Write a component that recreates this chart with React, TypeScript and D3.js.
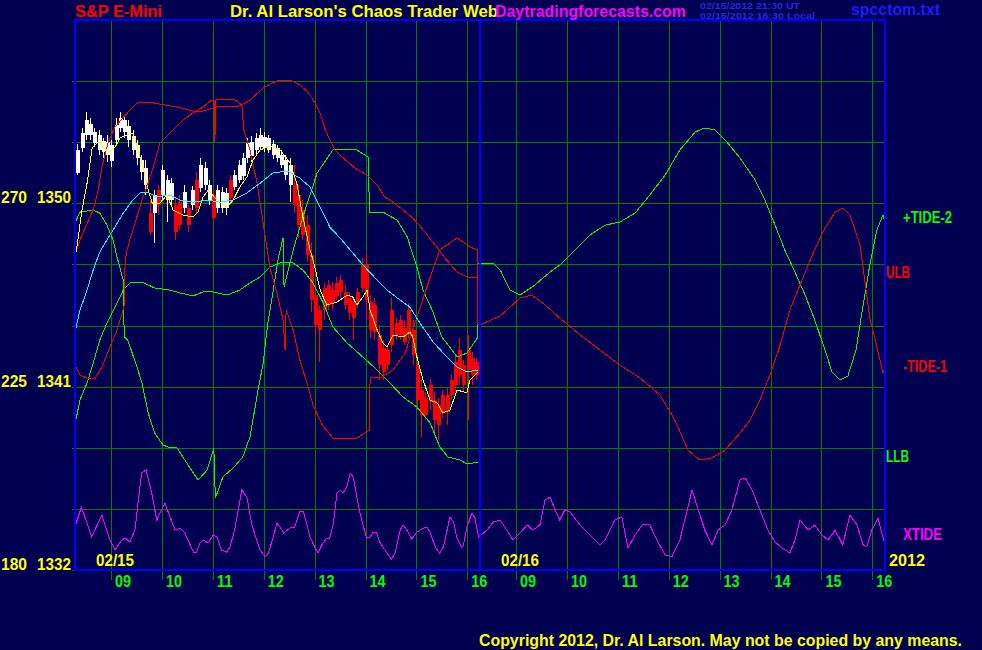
import React from 'react';
import * as d3 from 'd3';

const W = 982;
const H = 650;
const BG = '#000050';
const FONT = 'Liberation Sans, Arial, Helvetica, sans-serif';

// ---- axis values ----
const hourTicks = [9, 10, 11, 12, 13, 14, 15, 16];
const hourLabels = ['09', '10', '11', '12', '13', '14', '15', '16'];
const priceGrid = [1335, 1338, 1341, 1344, 1347, 1350, 1353, 1356];
const tideLabels = ['270', '225', '180'];
const priceLabels = [1350, 1341, 1332];

// ---- 5-minute price bars of 02/15 (open, high, low, close), starting 08:20 ----
const barStart = 8.3;
const bars: number[][] = [
  [1351.5, 1352.9, 1351.4, 1352.6], [1352.7, 1353.7, 1352.5, 1353.45], [1353.35, 1354.5, 1353.1, 1354.1],
  [1353.35, 1354.2, 1353.1, 1353.9], [1352.95, 1353.7, 1352.75, 1353.5], [1352.6, 1353.6, 1352.35, 1353.35],
  [1352.5, 1353.2, 1352.25, 1353.05], [1352.35, 1353.35, 1352.05, 1353.0], [1352.1, 1353.1, 1351.8, 1352.85],
  [1353.1, 1354.2, 1352.85, 1353.85], [1353.7, 1354.5, 1353.5, 1354.2], [1353.5, 1354.35, 1353.2, 1354.1],
  [1353.1, 1354.1, 1352.75, 1353.8], [1352.6, 1353.6, 1352.35, 1353.3], [1352.25, 1353.1, 1351.9, 1352.85],
  [1351.55, 1352.35, 1351.15, 1352.15], [1350.9, 1352.15, 1350.4, 1351.75], [1349.55, 1350.15, 1348.45, 1348.6],
  [1349.55, 1350.65, 1348.05, 1350.4], [1350.65, 1350.9, 1349.45, 1349.9], [1350.4, 1351.9, 1350.15, 1351.65],
  [1350.15, 1351.4, 1349.1, 1351.15], [1350.15, 1351.25, 1349.9, 1351.0], [1349.9, 1350.25, 1348.2, 1348.6],
  [1350.05, 1350.4, 1348.7, 1348.95], [1349.75, 1350.9, 1349.55, 1350.55], [1349.75, 1349.9, 1348.6, 1348.95],
  [1349.9, 1350.85, 1349.65, 1350.65], [1351.15, 1351.55, 1349.55, 1349.75], [1350.75, 1352.25, 1350.55, 1351.9],
  [1350.9, 1352.05, 1350.65, 1351.75], [1350.15, 1351.15, 1349.9, 1350.9], [1350.4, 1350.65, 1349.1, 1349.3],
  [1349.75, 1350.9, 1349.55, 1350.65], [1349.75, 1350.8, 1349.55, 1350.55], [1349.75, 1350.75, 1349.45, 1350.5],
  [1351.15, 1351.4, 1350.0, 1350.25], [1350.8, 1351.65, 1350.65, 1351.4], [1351.15, 1352.15, 1351.0, 1351.9],
  [1351.35, 1352.45, 1351.15, 1352.25], [1352.25, 1353.2, 1352.0, 1352.95], [1352.3, 1353.3, 1352.05, 1353.0],
  [1352.6, 1353.45, 1352.35, 1353.2], [1352.75, 1353.7, 1352.6, 1353.35], [1352.7, 1353.5, 1352.5, 1353.25],
  [1352.6, 1353.35, 1352.45, 1353.2], [1352.35, 1353.1, 1352.2, 1352.9], [1352.25, 1352.85, 1352.05, 1352.7],
  [1351.9, 1352.6, 1351.75, 1352.35], [1351.4, 1352.35, 1351.15, 1352.15], [1350.9, 1352.25, 1350.05, 1351.9],
  [1350.9, 1351.9, 1349.55, 1349.9], [1350.4, 1350.9, 1348.3, 1348.95], [1349.65, 1350.15, 1348.2, 1348.45],
  [1348.95, 1349.45, 1347.1, 1347.45], [1347.45, 1348.05, 1344.65, 1345.25], [1345.5, 1346.0, 1343.55, 1344.05],
  [1344.75, 1345.0, 1342.2, 1343.8], [1345.85, 1346.1, 1344.25, 1344.75], [1346.0, 1346.25, 1344.75, 1345.0],
  [1345.75, 1346.15, 1344.75, 1345.1], [1346.1, 1346.4, 1345.25, 1345.45], [1346.25, 1346.5, 1345.35, 1345.65],
  [1345.65, 1346.0, 1344.75, 1345.0], [1345.35, 1345.65, 1344.25, 1344.6], [1345.15, 1345.4, 1343.3, 1344.35],
  [1345.65, 1345.85, 1344.85, 1345.15], [1346.95, 1347.3, 1345.65, 1345.85], [1346.95, 1347.55, 1344.25, 1345.25],
  [1345.15, 1345.5, 1343.4, 1343.8], [1345.0, 1345.35, 1343.3, 1343.7], [1343.55, 1344.05, 1341.35, 1342.05],
  [1342.9, 1343.3, 1341.35, 1341.7], [1342.8, 1343.05, 1341.8, 1342.05], [1344.75, 1345.4, 1342.7, 1343.05],
  [1344.15, 1344.35, 1343.3, 1343.55], [1344.25, 1344.5, 1343.3, 1343.55], [1343.9, 1344.25, 1343.05, 1343.2],
  [1344.75, 1345.1, 1343.4, 1343.55], [1343.8, 1344.25, 1342.05, 1342.55], [1342.05, 1342.55, 1339.85, 1340.35],
  [1340.85, 1341.35, 1338.55, 1339.6], [1340.45, 1340.75, 1339.35, 1339.6], [1341.1, 1341.4, 1339.85, 1340.25],
  [1340.35, 1340.75, 1338.75, 1339.35], [1340.1, 1340.45, 1338.4, 1339.1], [1340.6, 1340.85, 1339.45, 1339.75],
  [1340.6, 1340.95, 1339.1, 1339.75], [1341.35, 1341.55, 1340.35, 1340.6], [1342.2, 1342.55, 1340.75, 1341.1],
  [1342.8, 1343.4, 1341.1, 1341.55], [1342.05, 1342.3, 1340.75, 1341.1], [1342.8, 1343.55, 1339.35, 1341.8],
  [1342.4, 1342.7, 1341.1, 1341.55], [1342.2, 1342.4, 1341.35, 1341.55],
];

// ---- indicator lines: [clock hour, value] ----
const yellowMA: number[][] = [
  [8.29, 1347.36], [8.33, 1347.85], [8.43, 1349.67], [8.53, 1350.99], [8.63, 1352.72], [8.72, 1352.96],
  [8.78, 1353.01], [8.84, 1352.72], [8.98, 1352.52], [9.08, 1352.76], [9.18, 1353.21], [9.31, 1353.35],
  [9.43, 1353.45], [9.53, 1352.62], [9.63, 1351.78], [9.73, 1350.65], [9.81, 1350.01], [9.96, 1350.01],
  [10.1, 1350.41], [10.22, 1349.67], [10.41, 1349.43], [10.61, 1349.33], [10.71, 1349.57], [10.81, 1350.31],
  [10.91, 1350.65], [11.08, 1350.16], [11.28, 1349.82], [11.4, 1350.16], [11.53, 1350.8], [11.67, 1351.29],
  [11.79, 1352.13], [11.93, 1352.62], [12.12, 1352.81], [12.32, 1352.62], [12.52, 1351.98], [12.65, 1350.99],
  [12.77, 1349.33], [12.91, 1347.71], [12.97, 1347.22], [13.11, 1345.74], [13.24, 1345.01], [13.44, 1345.15],
  [13.64, 1345.5], [13.75, 1345.4], [13.83, 1345.01], [13.95, 1345.4], [14.03, 1345.74], [14.09, 1344.76],
  [14.23, 1343.78], [14.34, 1343.14], [14.42, 1342.95], [14.54, 1343.54], [14.74, 1343.44], [14.87, 1343.68],
  [14.93, 1343.44], [15.01, 1342.45], [15.13, 1341.33], [15.27, 1340.34], [15.41, 1340.2], [15.52, 1339.71],
  [15.66, 1339.85], [15.8, 1340.84], [15.99, 1340.69], [16.05, 1341.33], [16.21, 1341.72],
];

const cyanMA: number[][] = [
  [8.29, 1343.63], [8.39, 1344.76], [8.53, 1345.74], [8.65, 1346.73], [8.78, 1347.61], [8.92, 1348.2],
  [9.04, 1348.69], [9.24, 1349.52], [9.43, 1350.16], [9.57, 1350.51], [9.71, 1350.55], [9.9, 1350.31],
  [10.16, 1350.41], [10.36, 1350.16], [10.61, 1350.06], [10.89, 1350.16], [11.14, 1350.06], [11.4, 1350.16],
  [11.67, 1350.51], [11.93, 1350.99], [12.18, 1351.49], [12.46, 1351.59], [12.71, 1351.24], [12.91, 1350.8],
  [13.11, 1349.82], [13.3, 1348.83], [13.5, 1348.3], [13.7, 1347.71], [13.95, 1346.97], [14.23, 1346.23],
  [14.42, 1345.74], [14.68, 1345.25], [14.87, 1344.91], [15.07, 1344.12], [15.33, 1343.19], [15.6, 1342.45],
  [15.8, 1341.96], [15.99, 1341.72], [16.21, 1341.82],
];

const ulbLine: number[][] = [
  [8.29, 1347.46], [8.39, 1348.2], [8.49, 1348.79], [8.65, 1349.67], [8.75, 1350.65], [8.82, 1351.73],
  [8.94, 1352.96], [9.08, 1353.75], [9.28, 1354.33], [9.51, 1354.92], [9.77, 1354.97], [9.96, 1354.87],
  [10.3, 1354.73], [10.61, 1354.53], [10.81, 1354.53], [11.08, 1354.73], [11.53, 1354.78], [11.73, 1355.07],
  [11.99, 1355.66], [12.16, 1355.9], [12.32, 1356.05], [12.52, 1356.05], [12.71, 1355.81], [12.87, 1355.46],
  [13.01, 1354.92], [13.11, 1354.43], [13.2, 1353.7], [13.3, 1353.11], [13.4, 1352.62], [13.5, 1352.37],
  [13.79, 1351.73], [14.03, 1351.39], [14.23, 1350.9], [14.38, 1350.31], [14.62, 1349.92], [14.93, 1349.28],
  [15.17, 1348.59], [15.37, 1347.95], [15.56, 1347.31], [15.8, 1346.63], [15.99, 1346.38], [16.21, 1346.33],
];

const llbLine: number[][] = [
  [8.29, 1339.12], [8.39, 1340.34], [8.53, 1341.18], [8.65, 1342.16], [8.78, 1343.29], [8.92, 1344.12],
  [9.12, 1345.11], [9.24, 1345.74], [9.37, 1346.09], [9.61, 1346.14], [9.86, 1345.84], [10.16, 1345.74],
  [10.36, 1345.6], [10.61, 1345.45], [10.81, 1345.65], [11.0, 1345.65], [11.28, 1345.5], [11.53, 1345.74],
  [11.73, 1346.09], [11.93, 1346.38], [12.12, 1346.87], [12.38, 1347.12], [12.58, 1347.07], [12.77, 1346.73],
  [12.97, 1346.09], [13.17, 1345.11], [13.36, 1343.93], [13.64, 1343.14], [13.95, 1342.45], [14.23, 1341.82],
  [14.48, 1341.18], [14.74, 1340.49], [15.01, 1340.0], [15.27, 1339.22], [15.46, 1338.04], [15.62, 1337.55],
  [15.86, 1337.4], [15.99, 1337.2], [16.21, 1337.3],
];

const tide1Day1: number[][] = [
  [8.29, 1342.06], [8.39, 1341.57], [8.53, 1341.42], [8.69, 1341.42], [8.82, 1341.96], [8.98, 1342.95],
  [9.12, 1343.78], [9.22, 1344.61], [9.26, 1345.01], [9.27, 1346.73], [9.3, 1347.56], [9.37, 1348.2],
  [9.49, 1349.18], [9.61, 1350.16], [9.73, 1350.99], [9.83, 1351.78], [9.96, 1352.96], [10.16, 1353.45],
  [10.41, 1354.09], [10.61, 1354.43], [10.81, 1354.73], [10.98, 1355.07], [11.03, 1355.07], [11.04, 1353.01],
  [11.06, 1355.07], [11.2, 1355.12], [11.44, 1355.07], [11.57, 1354.83], [11.61, 1353.6], [11.73, 1352.62],
  [11.87, 1350.99], [11.99, 1349.03], [12.12, 1346.87], [12.26, 1345.6], [12.38, 1344.27], [12.42, 1342.8],
  [12.44, 1344.76], [12.58, 1343.78], [12.71, 1342.31], [12.85, 1341.18], [12.97, 1340.1], [13.15, 1339.12],
  [13.36, 1338.48], [13.83, 1338.48], [14.08, 1338.87], [14.09, 1341.47], [14.32, 1341.47], [14.54, 1341.82],
  [14.78, 1342.65], [15.01, 1344.42], [15.27, 1346.38], [15.46, 1347.71], [15.8, 1348.3], [16.05, 1347.86],
  [16.2, 1347.71], [16.21, 1344.03],
];
const tide1Day2: number[][] = [
  [8.29, 1344.03], [8.69, 1344.47], [9.08, 1345.35], [9.31, 1345.5], [9.57, 1345.01], [9.86, 1344.37],
  [10.26, 1343.54], [10.65, 1342.8], [11.04, 1342.06], [11.44, 1341.42], [11.83, 1340.59], [12.12, 1339.36],
  [12.38, 1337.89], [12.61, 1337.4], [12.85, 1337.5], [13.11, 1337.89], [13.4, 1338.72], [13.6, 1339.36],
  [13.79, 1340.34], [13.99, 1341.57], [14.19, 1343.04], [14.38, 1344.76], [14.58, 1345.99], [14.82, 1347.46],
  [15.07, 1348.79], [15.27, 1349.57], [15.42, 1349.77], [15.56, 1349.43], [15.76, 1347.95], [15.95, 1344.37],
  [16.09, 1342.95], [16.21, 1341.67], [16.25, 1341.82],
];

const tide2Day1: number[][] = [
  [8.29, 1349.03], [8.39, 1349.57], [8.65, 1349.67], [8.78, 1349.52], [8.92, 1348.93], [9.04, 1348.2],
  [9.12, 1347.36], [9.24, 1346.23], [9.26, 1343.44], [9.33, 1343.29], [9.51, 1341.96], [9.61, 1341.18],
  [9.73, 1339.71], [9.86, 1338.72], [10.02, 1338.14], [10.16, 1337.99], [10.3, 1337.99], [10.45, 1337.4],
  [10.71, 1336.42], [10.89, 1336.91], [11.02, 1337.99], [11.05, 1335.53], [11.2, 1336.57], [11.4, 1337.01],
  [11.59, 1337.55], [11.73, 1338.53], [11.89, 1340.84], [11.99, 1342.16], [12.08, 1344.12], [12.18, 1345.6],
  [12.28, 1347.22], [12.38, 1348.3], [12.4, 1345.89], [12.58, 1347.71], [12.77, 1349.33], [13.05, 1351.49],
  [13.36, 1352.62], [13.83, 1352.62], [14.05, 1352.27], [14.08, 1349.57], [14.34, 1349.57], [14.62, 1349.18],
  [14.82, 1348.35], [15.01, 1346.87], [15.13, 1345.74], [15.31, 1344.76], [15.5, 1343.44], [15.7, 1342.8],
  [15.8, 1342.45], [15.99, 1342.65], [16.2, 1343.39], [16.21, 1347.07],
];
const tide2Day2: number[][] = [
  [8.29, 1347.07], [8.55, 1347.07], [8.69, 1346.73], [8.88, 1345.74], [9.08, 1345.5], [9.37, 1345.99],
  [9.67, 1346.63], [9.86, 1346.97], [10.16, 1347.71], [10.45, 1348.44], [10.75, 1348.93], [11.04, 1349.08],
  [11.34, 1349.52], [11.63, 1350.41], [11.93, 1351.39], [12.22, 1352.62], [12.52, 1353.5], [12.71, 1353.7],
  [12.91, 1353.6], [13.11, 1353.11], [13.4, 1352.23], [13.7, 1351.14], [13.89, 1350.16], [14.09, 1348.93],
  [14.28, 1347.71], [14.48, 1346.63], [14.68, 1345.5], [14.87, 1344.27], [15.07, 1342.8], [15.21, 1341.72],
  [15.36, 1341.33], [15.52, 1341.52], [15.68, 1342.8], [15.82, 1345.01], [15.95, 1346.97], [16.09, 1348.69],
  [16.21, 1349.43], [16.25, 1349.08],
];

const xtideDay1: number[][] = [
  [8.29, 1334.11], [8.42, 1335.09], [8.62, 1333.62], [8.82, 1334.7], [8.98, 1333.47], [9.08, 1332.98],
  [9.21, 1333.47], [9.28, 1333.57], [9.37, 1333.37], [9.47, 1333.96], [9.6, 1336.76], [9.69, 1336.91],
  [9.8, 1335.78], [9.9, 1334.45], [9.96, 1334.8], [10.06, 1335.29], [10.16, 1334.6], [10.26, 1333.96],
  [10.36, 1334.06], [10.45, 1333.82], [10.62, 1332.88], [10.68, 1332.88], [10.75, 1333.33], [10.81, 1333.47],
  [10.91, 1333.33], [11.01, 1333.72], [11.08, 1333.62], [11.17, 1332.98], [11.27, 1332.88], [11.34, 1333.13],
  [11.44, 1334.11], [11.57, 1335.93], [11.67, 1335.58], [11.76, 1334.31], [11.86, 1333.47], [11.93, 1332.98],
  [12.03, 1332.64], [12.09, 1332.83], [12.19, 1333.62], [12.26, 1334.31], [12.32, 1334.11], [12.39, 1333.82],
  [12.52, 1334.06], [12.61, 1334.11], [12.71, 1334.85], [12.78, 1334.85], [12.84, 1334.31], [12.91, 1333.62],
  [13.01, 1333.08], [13.07, 1332.83], [13.14, 1333.23], [13.24, 1333.57], [13.3, 1333.57], [13.37, 1334.31],
  [13.44, 1335.78], [13.5, 1335.93], [13.56, 1335.78], [13.63, 1336.07], [13.7, 1336.76], [13.76, 1336.56],
  [13.83, 1335.58], [13.89, 1334.8], [14.02, 1333.57], [14.09, 1333.62], [14.15, 1333.86], [14.22, 1333.82],
  [14.28, 1333.37], [14.42, 1332.83], [14.51, 1332.54], [14.58, 1332.83], [14.68, 1333.96], [14.74, 1334.21],
  [14.81, 1333.96], [14.91, 1333.52], [15.01, 1333.86], [15.14, 1334.06], [15.2, 1334.11], [15.27, 1333.86],
  [15.37, 1333.13], [15.46, 1332.83], [15.53, 1333.13], [15.66, 1334.6], [15.73, 1334.35], [15.79, 1333.62],
  [15.89, 1333.13], [15.92, 1333.18], [15.99, 1334.06], [16.09, 1334.8], [16.15, 1334.55], [16.22, 1333.62],
];
const xtideDay2: number[][] = [
  [8.29, 1333.67], [8.43, 1333.96], [8.55, 1334.35], [8.69, 1334.45], [8.82, 1333.96], [8.94, 1333.47],
  [9.08, 1333.82], [9.22, 1334.21], [9.33, 1333.96], [9.47, 1334.21], [9.57, 1335.44], [9.67, 1335.58],
  [9.77, 1334.95], [9.86, 1334.45], [9.96, 1334.95], [10.06, 1334.85], [10.26, 1334.21], [10.45, 1333.72],
  [10.65, 1333.23], [10.75, 1333.47], [10.94, 1334.45], [11.08, 1334.6], [11.2, 1333.08], [11.34, 1333.72],
  [11.48, 1334.21], [11.63, 1334.21], [11.77, 1333.47], [11.93, 1332.74], [12.06, 1332.64], [12.22, 1333.47],
  [12.46, 1335.93], [12.58, 1334.95], [12.71, 1333.96], [12.85, 1333.23], [12.97, 1333.96], [13.11, 1334.21],
  [13.24, 1334.95], [13.4, 1336.42], [13.5, 1336.52], [13.64, 1335.93], [13.79, 1334.95], [13.95, 1333.96],
  [14.09, 1333.37], [14.23, 1333.08], [14.38, 1332.83], [14.48, 1333.47], [14.58, 1334.45], [14.74, 1333.96],
  [14.87, 1334.21], [15.01, 1333.72], [15.13, 1333.47], [15.27, 1333.96], [15.42, 1333.23], [15.56, 1334.7],
  [15.7, 1334.21], [15.82, 1333.23], [15.89, 1333.13], [15.99, 1333.96], [16.11, 1334.55], [16.25, 1333.23],
];

// ---- scales ----
const yScale = d3.scaleLinear().domain([1332, 1359]).range([570, 20]);
const xDay1 = d3.scaleLinear().domain([9, 16]).range([111, 467.3]);
const xDay2 = d3.scaleLinear().domain([9, 16]).range([516, 872.3]);
const frameLeft = xDay1(8.293);
const frameRight = xDay2(16.25);
const divider = xDay1(16.25);
const frameTop = yScale(1359);
const frameBottom = yScale(1332);

function pathFor(day1: number[][], day2?: number[][]) {
  const pts: [number, number][] = day1.map((d) => [xDay1(d[0]), yScale(d[1])]);
  if (day2) day2.forEach((d) => pts.push([xDay2(d[0]), yScale(d[1])]));
  return d3.line()(pts) || '';
}

function T(props: any) {
  const { children, ...rest } = props;
  return (
    <text fontFamily={FONT} fontWeight="bold" lengthAdjust="spacingAndGlyphs" {...rest}>
      {children}
    </text>
  );
}

export default function App() {
  const gridX = [...hourTicks.map((h) => xDay1(h)), ...hourTicks.map((h) => xDay2(h))];
  const crisp = (v: number) => Math.round(v) + 0.5;
  const lineProps = { fill: 'none', strokeWidth: 1, shapeRendering: 'crispEdges' as const };

  return (
    <svg
      width={W}
      height={H}
      viewBox={`0 0 ${W} ${H}`}
      style={{ position: 'fixed', left: 0, top: 0, background: BG, display: 'block' }}
    >
      <rect x={0} y={0} width={W} height={H} fill={BG} />

      {/* grid */}
      {priceGrid.map((p) => (
        <line key={'h' + p} x1={frameLeft - 3} x2={frameRight} y1={crisp(yScale(p))} y2={crisp(yScale(p))} stroke="#008000" strokeWidth={1} />
      ))}
      <line x1={frameLeft - 3} x2={frameLeft} y1={crisp(frameBottom)} y2={crisp(frameBottom)} stroke="#008000" />
      {gridX.map((x, i) => (
        <line key={'v' + i} x1={crisp(x)} x2={crisp(x)} y1={frameTop} y2={frameBottom + 10} stroke="#008000" strokeWidth={1} />
      ))}

      {/* price bars */}
      {bars.map((b, i) => {
        const t = barStart + ((i + 0.5) * 5) / 60;
        const cx = Math.round(xDay1(t));
        const [o, h, l, c] = b;
        const col = c >= o ? '#ffffff' : '#ff0000';
        const yTop = yScale(Math.max(o, c));
        const yBot = yScale(Math.min(o, c));
        return (
          <g key={'b' + i}>
            <line x1={cx + 0.5} x2={cx + 0.5} y1={yScale(h)} y2={yScale(l)} stroke={col} strokeWidth={1} shapeRendering="crispEdges" />
            <rect x={cx - 1.5} y={yTop} width={4} height={Math.max(1, yBot - yTop)} fill={col} shapeRendering="crispEdges" />
          </g>
        );
      })}

      {/* indicator lines */}
      <path d={pathFor(llbLine)} stroke="#00ff00" {...lineProps} />
      <path d={pathFor(tide2Day1, tide2Day2)} stroke="#00ff00" {...lineProps} />
      <path d={pathFor(ulbLine)} stroke="#ff0000" {...lineProps} />
      <path d={pathFor(tide1Day1, tide1Day2)} stroke="#ff0000" {...lineProps} />
      <path d={pathFor(xtideDay1, xtideDay2)} stroke="#ff00ff" {...lineProps} />
      <path d={pathFor(cyanMA)} stroke="#00ffff" {...lineProps} />
      <path d={pathFor(yellowMA)} stroke="#ffff00" {...lineProps} />

      {/* frame */}
      <rect x={frameLeft} y={frameTop} width={frameRight - frameLeft} height={frameBottom - frameTop} fill="none" stroke="#0000ff" strokeWidth={2} />
      <line x1={divider} x2={divider} y1={frameTop} y2={frameBottom} stroke="#0000ff" strokeWidth={2} />

      {/* header */}
      <T x={75} y={17} fill="#ff0000" fontSize={16} textLength={87}>S&amp;P E-Mini</T>
      <T x={230} y={17} fill="#ffff00" fontSize={16.5} textLength={268}>Dr. Al Larson's Chaos Trader Web</T>
      <T x={495} y={17} fill="#ff00ff" fontSize={16.5} textLength={191}>Daytradingforecasts.com</T>
      <T x={700} y={9} fill="#2828e0" fontSize={8.5} textLength={100}>02/15/2012 21:30 UT</T>
      <T x={700} y={19} fill="#2828e0" fontSize={8.5} textLength={115}>02/15/2012 16:30 Local</T>
      <T x={851} y={15} fill="#1c1cff" fontSize={16} textLength={89}>spcctom.txt</T>

      {/* left axis labels */}
      {priceLabels.map((p, i) => (
        <g key={'l' + p}>
          <T x={1} y={yScale(p)} fill="#ffff00" fontSize={17} textLength={26}>{tideLabels[i]}</T>
          <T x={37} y={yScale(p)} fill="#ffff00" fontSize={17} textLength={34}>{String(p)}</T>
        </g>
      ))}

      {/* hour labels */}
      {hourTicks.map((h, i) => (
        <g key={'hl' + h}>
          <T x={xDay1(h) + 4} y={587} fill="#00ff00" fontSize={17} textLength={16}>{hourLabels[i]}</T>
          <T x={xDay2(h) + 4} y={587} fill="#00ff00" fontSize={17} textLength={16}>{hourLabels[i]}</T>
        </g>
      ))}

      {/* date labels */}
      <T x={96} y={566} fill="#ffff00" fontSize={17} textLength={38}>02/15</T>
      <T x={501} y={566} fill="#ffff00" fontSize={17} textLength={38}>02/16</T>
      <T x={889} y={566} fill="#ffff00" fontSize={17} textLength={36}>2012</T>

      {/* right legend */}
      <T x={903} y={223} fill="#00ff00" fontSize={16} textLength={49}>+TIDE-2</T>
      <T x={886} y={278} fill="#ff0000" fontSize={16} textLength={24}>ULB</T>
      <T x={903} y={372} fill="#ff0000" fontSize={16} textLength={44}>-TIDE-1</T>
      <T x={886} y={462} fill="#00ff00" fontSize={16} textLength={23}>LLB</T>
      <T x={903} y={540} fill="#ff00ff" fontSize={16} textLength={39}>XTIDE</T>

      {/* copyright */}
      <T x={479} y={646} fill="#ffff00" fontSize={16} textLength={483}>Copyright 2012, Dr. Al Larson. May not be copied by any means.</T>
    </svg>
  );
}
